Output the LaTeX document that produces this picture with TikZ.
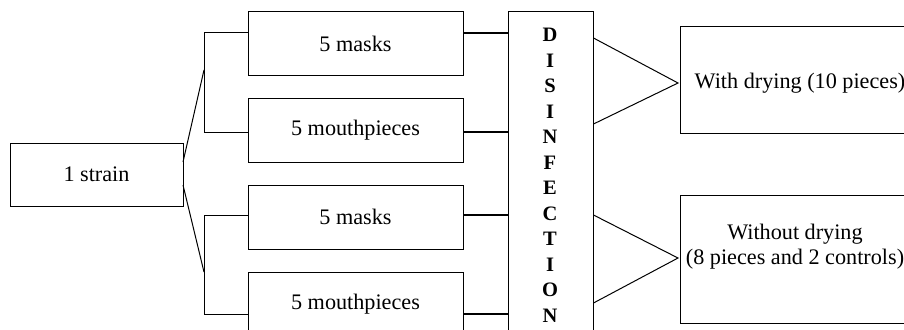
\documentclass[tikz,border=0pt]{standalone}
\usepackage{fontspec}
\setmainfont{Liberation Serif}
\begin{document}
\begin{tikzpicture}[x=1pt,y=-1pt,
  thin line/.style={line width=1pt},
  thick line/.style={line width=2pt},
  box/.style={draw,line width=1pt,inner sep=0pt,font=\fontsize{22.2}{25}\selectfont},
  txt/.style={inner sep=0pt,font=\fontsize{22.2}{25}\selectfont,align=center}]
\useasboundingbox (0,0) rectangle (904,329);
\clip (0,0) rectangle (904,329);
% left boxes
\node[box,minimum width=173pt,minimum height=63pt] (strain) at (96.5,174.5) {1 strain};
\node[box,minimum width=215pt,minimum height=63pt] (m1) at (355.5,43.5) {5 masks};
\node[box,minimum width=215pt,minimum height=64pt] (p1) at (355.5,130) {5 mouthpieces};
\node[box,minimum width=215pt,minimum height=64pt] (m2) at (355.5,217) {5 masks};
\node[box,minimum width=215pt,minimum height=64pt] (p2) at (355.5,304) {5 mouthpieces};
% disinfection
\node[draw,line width=1pt,minimum width=85pt,minimum height=340pt,inner sep=0pt] (dis) at (550.5,182) {};
\node[inner sep=0pt,align=center,font=\fontsize{20.5}{25.5}\selectfont\bfseries,anchor=north] (distext) at (550,28)
  {D\\I\\S\\I\\N\\F\\E\\C\\T\\I\\O\\N};
% right boxes
\node[box,minimum width=235pt,minimum height=106pt] (r1) at (797.5,80) {};
\node[txt] (r1t) at (800,83) {With drying (10 pieces)};
\node[box,minimum width=235pt,minimum height=128pt] (r2) at (797.5,259) {};
\node[txt] (r2t) at (795,247) {Without drying\\(8 pieces and 2 controls)};
% brackets
\coordinate (a1) at (204,33);
\coordinate (a2) at (204,132);
\coordinate (a3) at (204,215);
\coordinate (a4) at (204,314);
\coordinate (u) at (204,70);
\coordinate (l) at (204,272);
\coordinate (su) at (183,162);
\coordinate (sl) at (183,185);
\draw[thin line] (a1 -| m1.west) -- (a1) -- (a2) -- (a2 -| p1.west);
\draw[thin line] (a3 -| m2.west) -- (a3) -- (a4) -- (a4 -| p2.west);
\draw[thin line] (su) -- (u);
\draw[thin line] (sl) -- (l);
% thick connectors
\draw[thick line] (m1.east |- a1) -- (a1 -| dis.west);
\draw[thick line] (p1.east |- a2) -- (a2 -| dis.west);
\draw[thick line] (m2.east |- a3) -- (a3 -| dis.west);
\draw[thick line] (p2.east |- a4) -- (a4 -| dis.west);
% right fans
\coordinate (t1) at (678,83);
\coordinate (t2) at (678,258);
\draw[thin line] (dis.east |- 0,38) -- (t1) -- (dis.east |- 0,124);
\draw[thin line] (dis.east |- 0,215) -- (t2) -- (dis.east |- 0,303);
\end{tikzpicture}
\end{document}
